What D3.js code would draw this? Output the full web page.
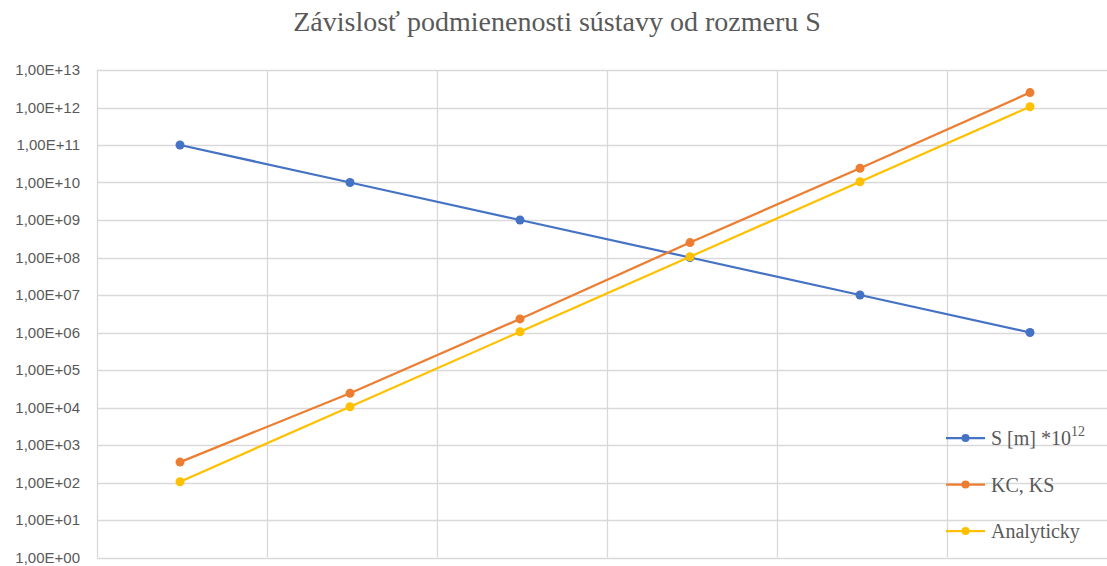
<!DOCTYPE html>
<html>
<head>
<meta charset="utf-8">
<script src="https://cdn.jsdelivr.net/npm/d3@7"></script>
<style>
body { margin: 0; background: #fff; }
</style>
</head>
<body>
<div id="chart"></div>
<script>
var width = 1107,
    height = 566;

// categories (no labels shown on the x axis in the original)
var categories = ["1", "2", "3", "4", "5", "6"];
var sValues = [1e11, 1e10, 1e9, 1e8, 1e7, 1e6];
var kcValues = [350, 2.4e4, 2.3e6, 2.5e8, 2.4e10, 2.5e12];
var analytValues = [105, 1.05e4, 1.05e6, 1.05e8, 1.05e10, 1.05e12];
var yTicks = d3.range(0, 14).map(function(e){ return Math.pow(10, e); });

var series = [
    {name: "S [m] *10", sup: "12", values: sValues, color: "#4472C4"},
    {name: "KC, KS", values: kcValues, color: "#ED7D31"},
    {name: "Analyticky", values: analytValues, color: "#FFC000"}
];

var margin = {top: 70, left: 97, bottom: 8};

var svg = d3.select("#chart")
    .append("svg")
    .attr("width", width)
    .attr("height", height);

var x = d3.scaleBand()
    .domain(categories)
    .range([margin.left, margin.left + 6 * 170]);

var y = d3.scaleLog()
    .domain([1, 1e13])
    .range([height - margin.bottom - 0.5, margin.top]);

// point position inside a category (slightly left of centre, like the original)
function px(i){ return x(categories[i]) + x.bandwidth() / 2 - 2; }

// title
svg.append("text")
    .attr("x", 557)
    .attr("y", 31)
    .attr("text-anchor", "middle")
    .style("font-family", "Liberation Serif, serif")
    .style("font-size", "28px")
    .style("fill", "#595959")
    .text("Závislosť podmienenosti sústavy od rozmeru S");

// horizontal gridlines
svg.append("g")
    .selectAll("line")
    .data(yTicks)
    .enter()
    .append("line")
    .attr("x1", margin.left)
    .attr("x2", width)
    .attr("y1", function(d){ return Math.round(y(d)) + 0.5; })
    .attr("y2", function(d){ return Math.round(y(d)) + 0.5; })
    .attr("stroke", "#d9d9d9")
    .attr("stroke-width", 1.3);

// vertical gridlines at category borders
svg.append("g")
    .selectAll("line")
    .data(categories)
    .enter()
    .append("line")
    .attr("x1", function(d){ return Math.round(x(d)) + 0.5; })
    .attr("x2", function(d){ return Math.round(x(d)) + 0.5; })
    .attr("y1", y(1e13))
    .attr("y2", y(1))
    .attr("stroke", "#d9d9d9")
    .attr("stroke-width", 1.3);

// y axis labels
var yAxis = d3.axisLeft(y)
    .tickValues(yTicks)
    .tickSize(0)
    .tickPadding(17)
    .tickFormat(function(d){
        var e = Math.round(Math.log10(d));
        return "1,00E+" + (e < 10 ? "0" + e : e);
    });

var gy = svg.append("g")
    .attr("transform", "translate(" + margin.left + ",0)")
    .call(yAxis);
gy.select(".domain").remove();
gy.selectAll("text")
    .style("font-family", "Liberation Sans, Arial, sans-serif")
    .style("font-size", "15px")
    .style("fill", "#595959");

var line = d3.line()
    .x(function(d, i){ return px(i); })
    .y(function(d){ return y(d); });

series.forEach(function(s){
    svg.append("path")
        .datum(s.values)
        .attr("d", line)
        .attr("fill", "none")
        .attr("stroke", s.color)
        .attr("stroke-width", 2.25);

    svg.append("g")
        .selectAll("circle")
        .data(s.values)
        .enter()
        .append("circle")
        .attr("cx", function(d, i){ return px(i); })
        .attr("cy", function(d){ return y(d); })
        .attr("r", 4.5)
        .attr("fill", s.color);
});

// legend
var legend = svg.append("g")
    .selectAll("g")
    .data(series)
    .enter()
    .append("g")
    .attr("transform", function(d, i){ return "translate(946," + (438 + i * 46.5) + ")"; });

legend.append("line")
    .attr("x1", 0)
    .attr("x2", 39)
    .attr("stroke", function(d){ return d.color; })
    .attr("stroke-width", 2.25);

legend.append("circle")
    .attr("cx", 19.5)
    .attr("r", 4)
    .attr("fill", function(d){ return d.color; });

var lt = legend.append("text")
    .attr("x", 45)
    .attr("y", 7)
    .style("font-family", "Liberation Serif, serif")
    .style("font-size", "20px")
    .style("fill", "#595959");

lt.append("tspan").text(function(d){ return d.name; });
lt.filter(function(d){ return d.sup; })
    .append("tspan")
    .attr("dy", -9)
    .style("font-size", "14px")
    .text(function(d){ return d.sup; });
</script>
</body>
</html>
